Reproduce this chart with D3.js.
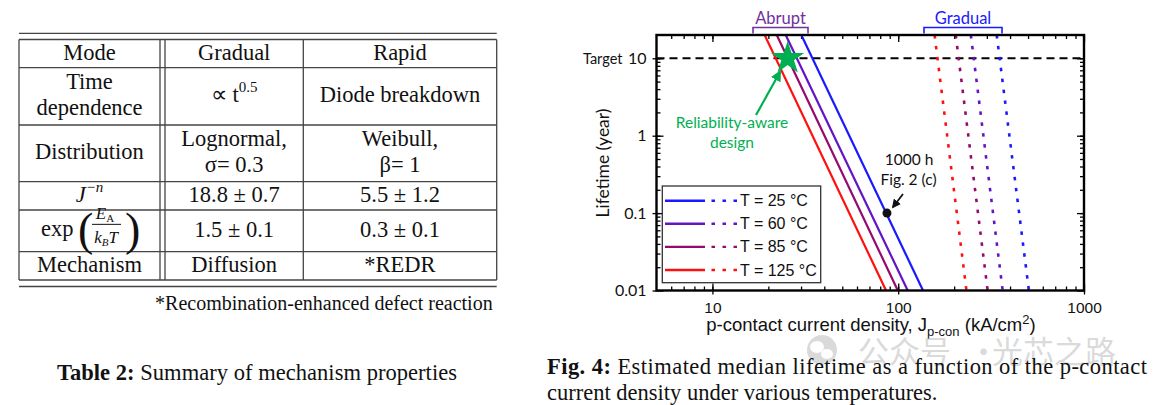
<!DOCTYPE html>
<html>
<head>
<meta charset="utf-8">
<script src="https://cdn.jsdelivr.net/npm/d3@7"></script>
<style>
  body { margin: 0; background: #fff; }
</style>
</head>
<body>
<div id="fig"></div>
<script>
// ---- table data ----
var tableRowLabels = [["Mode"], ["Time", "dependence"], ["Distribution"], ["J^−n"], ["exp"], ["Mechanism"]];
var gradualCol = [["Gradual"], ["∝ t^0.5"], ["Lognormal,", "σ= 0.3"], ["18.8 ± 0.7"], ["1.5 ± 0.1"], ["Diffusion"]];
var rapidCol = [["Rapid"], ["Diode breakdown"], ["Weibull,", "β= 1"], ["5.5 ± 1.2"], ["0.3 ± 0.1"], ["*REDR"]];
var footnote = "*Recombination-enhanced defect reaction";

// ---- chart data ----
var tempLabels = ["T = 25 °C", "T = 60 °C", "T = 85 °C", "T = 125 °C"];
var lifeEnds = [20, 0.01];                  // lifetime (year) at the two ends of each line
var abruptTop = [30.1, 24.8, 22.2, 19.1];   // J (kA/cm2) at 20 yr
var abruptBottom = [136, 112.5, 99.5, 86];  // J at 0.01 yr
var gradualTop = [339, 246, 204, 157];
var gradualBottom = [505, 365, 303, 233];
var targetLife = 10;
var starPoint = [25.4, 10];
var point1000h = [87, 0.1];
var xTicks = [10, 100, 1000];
var yTicks = [0.01, 0.1, 1, 10];
var yTickLabels = ["0.01", "0.1", "1", "10"];

var colors = ["#1a1aff", "#6414c4", "#960a6e", "#ff1010"];
var green = "#00b050";

var serif = "'Liberation Serif', 'Times New Roman', serif";
var arial = "'Liberation Sans', Arial, sans-serif";
var gill = "Lato, 'Open Sans', sans-serif";

var svg = d3.select("#fig").append("svg")
    .attr("width", 1157).attr("height", 405);

// ================= TABLE =================
var tbl = svg.append("g");
var colX = [19, 160, 165, 303.3, 496.7];
var rowY = [39.5, 67.7, 125, 181.7, 210, 251.7, 280];
var lineCol = "#444";

// top/bottom rules
[33.3, 286.5].forEach(function (yy) {
  tbl.append("line").attr("x1", colX[0]).attr("x2", colX[4])
     .attr("y1", yy).attr("y2", yy).attr("stroke", lineCol).attr("stroke-width", 1.3);
});
rowY.forEach(function (yy) {
  tbl.append("line").attr("x1", colX[0]).attr("x2", colX[4])
     .attr("y1", yy).attr("y2", yy).attr("stroke", lineCol).attr("stroke-width", 1.3);
});
colX.forEach(function (xx) {
  tbl.append("line").attr("x1", xx).attr("x2", xx)
     .attr("y1", rowY[0]).attr("y2", rowY[6]).attr("stroke", lineCol).attr("stroke-width", 1.3);
});

var colCenters = [(colX[0] + colX[1]) / 2, (colX[2] + colX[3]) / 2, (colX[3] + colX[4]) / 2];

function cellText(lines, cx, r, italic) {
  var cy = (rowY[r] + rowY[r + 1]) / 2;
  lines.forEach(function (s, i) {
    var base = lines.length === 1 ? cy + 6 : cy - 7 + i * 26;
    var t = tbl.append("text").attr("x", cx).attr("y", base)
        .attr("text-anchor", "middle").attr("font-family", serif)
        .attr("font-size", 22.5).attr("fill", "#111");
    if (italic) t.attr("font-style", "italic");
    var parts = s.split("^");
    t.append("tspan").text(parts[0]);
    if (parts.length > 1) {
      t.append("tspan").attr("dy", -10).attr("font-size", 15).text(parts[1]);
    }
  });
}

tableRowLabels.forEach(function (lines, r) {
  if (lines[0] === "exp") {
    var cy = (rowY[r] + rowY[r + 1]) / 2;
    tbl.append("text").attr("x", 41).attr("y", cy + 5).attr("font-family", serif)
       .attr("font-size", 22.5).attr("fill", "#111").text("exp");
    tbl.append("text").attr("x", 78).attr("y", cy + 14).attr("font-family", serif)
       .attr("font-size", 46).attr("fill", "#111").text("(");
    tbl.append("text").attr("x", 125).attr("y", cy + 14).attr("font-family", serif)
       .attr("font-size", 46).attr("fill", "#111").text(")");
    var num = tbl.append("text").attr("x", 105).attr("y", cy - 12).attr("text-anchor", "middle")
       .attr("font-family", serif).attr("font-style", "italic").attr("font-size", 17).attr("fill", "#111");
    num.append("tspan").text("E");
    num.append("tspan").attr("dy", 3).attr("font-size", 11).attr("font-style", "normal").text("A");
    tbl.append("line").attr("x1", 92).attr("x2", 121).attr("y1", cy - 6.5).attr("y2", cy - 6.5)
       .attr("stroke", "#111").attr("stroke-width", 1);
    var den = tbl.append("text").attr("x", 106).attr("y", cy + 12).attr("text-anchor", "middle")
       .attr("font-family", serif).attr("font-style", "italic").attr("font-size", 17).attr("fill", "#111");
    den.append("tspan").text("k");
    den.append("tspan").attr("dy", 3).attr("font-size", 11).text("B");
    den.append("tspan").attr("dy", -3).text("T");
  } else {
    cellText(lines, colCenters[0], r, lines[0].indexOf("J") === 0);
  }
});
gradualCol.forEach(function (lines, r) { cellText(lines, colCenters[1], r, false); });
rapidCol.forEach(function (lines, r) { cellText(lines, colCenters[2], r, false); });

tbl.append("text").attr("x", 492.7).attr("y", 310).attr("text-anchor", "end")
   .attr("font-family", serif).attr("font-size", 20).attr("fill", "#111").text(footnote);

// table caption
var cap1 = svg.append("text").attr("x", 57).attr("y", 379.5)
    .attr("font-family", serif).attr("font-size", 22.5).attr("fill", "#111")
    .attr("textLength", 400).attr("lengthAdjust", "spacing");
cap1.append("tspan").attr("font-weight", "bold").text("Table 2:");
cap1.append("tspan").text(" Summary of mechanism properties");

// ================= CHART =================
var x = d3.scaleLog().domain([5, 1000]).range([656.5, 1084]);
var y = d3.scaleLog().domain([0.01, 20]).range([290.5, 35]);
var x0 = x.range()[0], x1 = x.range()[1], y0 = y.range()[0], y1 = y.range()[1];

var chart = svg.append("g");

// minor ticks (inside), all four sides
var xMinor = x.ticks().filter(function (v) { return v > 5 && v < 1000; });
var yMinor = y.ticks().filter(function (v) { return v > 0.01 && v < 20; });

function tickGroup(axis, tx, ty) {
  var g = chart.append("g").attr("transform", "translate(" + tx + "," + ty + ")").call(axis);
  g.select(".domain").remove();
  g.selectAll("line").attr("stroke", "#000").attr("stroke-width", 1.3);
  return g;
}
tickGroup(d3.axisBottom(x).tickValues(xMinor).tickSize(-4).tickFormat(""), 0, y0);
tickGroup(d3.axisTop(x).tickValues(xMinor).tickSize(-4).tickFormat(""), 0, y1);
tickGroup(d3.axisLeft(y).tickValues(yMinor).tickSize(-4).tickFormat(""), x0, 0);
tickGroup(d3.axisRight(y).tickValues(yMinor).tickSize(-4).tickFormat(""), x1, 0);
// major ticks inside
tickGroup(d3.axisBottom(x).tickValues(xTicks).tickSize(-7).tickFormat(""), 0, y0);
tickGroup(d3.axisTop(x).tickValues(xTicks).tickSize(-7).tickFormat(""), 0, y1);
tickGroup(d3.axisLeft(y).tickValues(yTicks).tickSize(-7).tickFormat(""), x0, 0);
tickGroup(d3.axisRight(y).tickValues(yTicks).tickSize(-7).tickFormat(""), x1, 0);

// major ticks outside with labels
var xAx = tickGroup(d3.axisBottom(x).tickValues(xTicks).tickSize(4).tickPadding(7)
    .tickFormat(d3.format("d")), 0, y0);
xAx.selectAll("text").attr("font-family", arial).attr("font-size", 15.5).attr("fill", "#111");
var yAx = tickGroup(d3.axisLeft(y).tickValues(yTicks).tickSize(4).tickPadding(6)
    .tickFormat(function (d, i) { return yTickLabels[i]; }), x0, 0);
yAx.selectAll("text").attr("font-family", gill).attr("font-size", 16).attr("fill", "#111");

chart.append("text").attr("x", 583).attr("y", y(targetLife) + 5.5)
   .attr("font-family", gill).attr("font-size", 14.5).attr("fill", "#111").text("Target");

// clip for lines
svg.append("clipPath").attr("id", "plotclip").append("rect")
   .attr("x", x0).attr("y", y1).attr("width", x1 - x0).attr("height", y0 - y1);

var plot = chart.append("g").attr("clip-path", "url(#plotclip)");

// target dashed line
plot.append("line").attr("x1", x0).attr("x2", x1)
   .attr("y1", y(targetLife)).attr("y2", y(targetLife))
   .attr("stroke", "#000").attr("stroke-width", 2).attr("stroke-dasharray", "8,5");

var line = d3.line().x(function (d) { return x(d[0]); }).y(function (d) { return y(d[1]); });

tempLabels.forEach(function (lab, i) {
  plot.append("path")
     .attr("d", line([[abruptTop[i], lifeEnds[0]], [abruptBottom[i], lifeEnds[1]]]))
     .attr("stroke", colors[i]).attr("stroke-width", 2.2).attr("fill", "none");
  plot.append("path")
     .attr("d", line([[gradualTop[i], lifeEnds[0]], [gradualBottom[i], lifeEnds[1]]]))
     .attr("stroke", colors[i]).attr("stroke-width", 2.6).attr("fill", "none")
     .attr("stroke-dasharray", "3.5,7.5");
});

// frame
chart.append("rect").attr("x", x0).attr("y", y1).attr("width", x1 - x0).attr("height", y0 - y1)
   .attr("fill", "none").attr("stroke", "#000").attr("stroke-width", 2.4);

// arrowheads
var defs = svg.append("defs");
function marker(id, col) {
  defs.append("marker").attr("id", id).attr("viewBox", "0 0 10 10")
     .attr("refX", 8).attr("refY", 5).attr("markerWidth", 5).attr("markerHeight", 5)
     .attr("orient", "auto")
     .append("path").attr("d", "M0,0 L10,5 L0,10 z").attr("fill", col);
}
marker("arrG", green);
marker("arrK", "#111");

// green arrow and star
chart.append("line").attr("x1", 756).attr("y1", 115).attr("x2", 780).attr("y2", 72)
   .attr("stroke", green).attr("stroke-width", 2.2).attr("marker-end", "url(#arrG)");
chart.append("path")
   .attr("d", d3.symbol().type(d3.symbolStar).size(340)())
   .attr("transform", "translate(" + x(starPoint[0]) + "," + y(starPoint[1]) + ")")
   .attr("fill", green);

chart.append("text").attr("x", 732).attr("y", 128).attr("text-anchor", "middle")
   .attr("font-family", gill).attr("font-size", 15.5).attr("fill", green).text("Reliability-aware");
chart.append("text").attr("x", 732).attr("y", 148).attr("text-anchor", "middle")
   .attr("font-family", gill).attr("font-size", 15.5).attr("fill", green).text("design");

// 1000 h point
chart.append("circle").attr("cx", x(point1000h[0])).attr("cy", y(point1000h[1])).attr("r", 4.5)
   .attr("fill", "#111");
chart.append("line").attr("x1", 903).attr("y1", 194).attr("x2", 893).attr("y2", 207)
   .attr("stroke", "#111").attr("stroke-width", 1.8).attr("marker-end", "url(#arrK)");
chart.append("text").attr("x", 909).attr("y", 165).attr("text-anchor", "middle")
   .attr("font-family", gill).attr("font-size", 15.5).attr("fill", "#111").text("1000 h");
chart.append("text").attr("x", 908.5).attr("y", 185).attr("text-anchor", "middle")
   .attr("font-family", gill).attr("font-size", 15.5).attr("fill", "#111").text("Fig. 2 (c)");

// brackets
function bracket(xa, xb, col, label) {
  chart.append("path").attr("d", "M" + xa + ",33.5 V27.5 H" + xb + " V33.5")
     .attr("fill", "none").attr("stroke", col).attr("stroke-width", 1.6);
  chart.append("text").attr("x", (xa + xb) / 2).attr("y", 24).attr("text-anchor", "middle")
     .attr("font-family", gill).attr("font-size", 16.5).attr("fill", col).text(label);
}
bracket(753, 808, "#7030a0", "Abrupt");
bracket(924, 1002, "#1a1aff", "Gradual");

// legend
var leg = chart.append("g");
leg.append("rect").attr("x", 662.3).attr("y", 186).attr("width", 158.4).attr("height", 96.7)
   .attr("fill", "#fff").attr("stroke", "#333").attr("stroke-width", 1.3);
tempLabels.forEach(function (lab, i) {
  var ly = 200.7 + i * 23.1;
  leg.append("line").attr("x1", 665).attr("x2", 705).attr("y1", ly).attr("y2", ly)
     .attr("stroke", colors[i]).attr("stroke-width", 2.4);
  leg.append("line").attr("x1", 711.5).attr("x2", 738).attr("y1", ly).attr("y2", ly)
     .attr("stroke", colors[i]).attr("stroke-width", 2.4).attr("stroke-dasharray", "3.5,7.5");
  leg.append("text").attr("x", 740).attr("y", ly + 5.5)
     .attr("font-family", arial).attr("font-size", 16).attr("fill", "#111").text(lab);
});

// axis titles
chart.append("text").attr("transform", "translate(609,163) rotate(-90)")
   .attr("text-anchor", "middle").attr("font-family", gill).attr("font-size", 17.5)
   .attr("fill", "#111").text("Lifetime (year)");

var xt = chart.append("text").attr("x", 871).attr("y", 331).attr("text-anchor", "middle")
   .attr("font-family", arial).attr("font-size", 18.5).attr("fill", "#111");
xt.append("tspan").text("p-contact current density, J");
xt.append("tspan").attr("dy", 5).attr("font-size", 13).text("p-con");
xt.append("tspan").attr("dy", -5).text(" (kA/cm");
xt.append("tspan").attr("dy", -7).attr("font-size", 13).text("2");
xt.append("tspan").attr("dy", 7).text(")");

// watermark
var wm = svg.append("g").attr("opacity", 0.55);
wm.append("circle").attr("cx", 822).attr("cy", 350).attr("r", 15).attr("fill", "#bdbdbd");
wm.append("ellipse").attr("cx", 817).attr("cy", 347).attr("rx", 7).attr("ry", 6).attr("fill", "#fff");
wm.append("ellipse").attr("cx", 827).attr("cy", 354).attr("rx", 6).attr("ry", 5).attr("fill", "#fff");
wm.append("text").attr("x", 858).attr("y", 363).attr("font-family", "'Noto Sans CJK SC', sans-serif")
   .attr("font-size", 31).attr("fill", "#bdbdbd").text("公众号");
wm.append("text").attr("x", 968).attr("y", 363).attr("font-family", "'Noto Sans CJK SC', sans-serif")
   .attr("font-size", 31).attr("fill", "#bdbdbd").text("·");
wm.append("text").attr("x", 992).attr("y", 363).attr("font-family", "'Noto Sans CJK SC', sans-serif")
   .attr("font-size", 31).attr("fill", "#bdbdbd").text("光芯之路");

// figure caption
var cap2 = svg.append("text").attr("x", 547).attr("y", 373.5)
    .attr("font-family", serif).attr("font-size", 22.5).attr("fill", "#111")
    .attr("textLength", 600).attr("lengthAdjust", "spacing");
cap2.append("tspan").attr("font-weight", "bold").text("Fig. 4:");
cap2.append("tspan").text(" Estimated median lifetime as a function of the p-contact");
svg.append("text").attr("x", 547).attr("y", 400)
   .attr("font-family", serif).attr("font-size", 22.5).attr("fill", "#111")
   .text("current density under various temperatures.");
</script>
</body>
</html>
